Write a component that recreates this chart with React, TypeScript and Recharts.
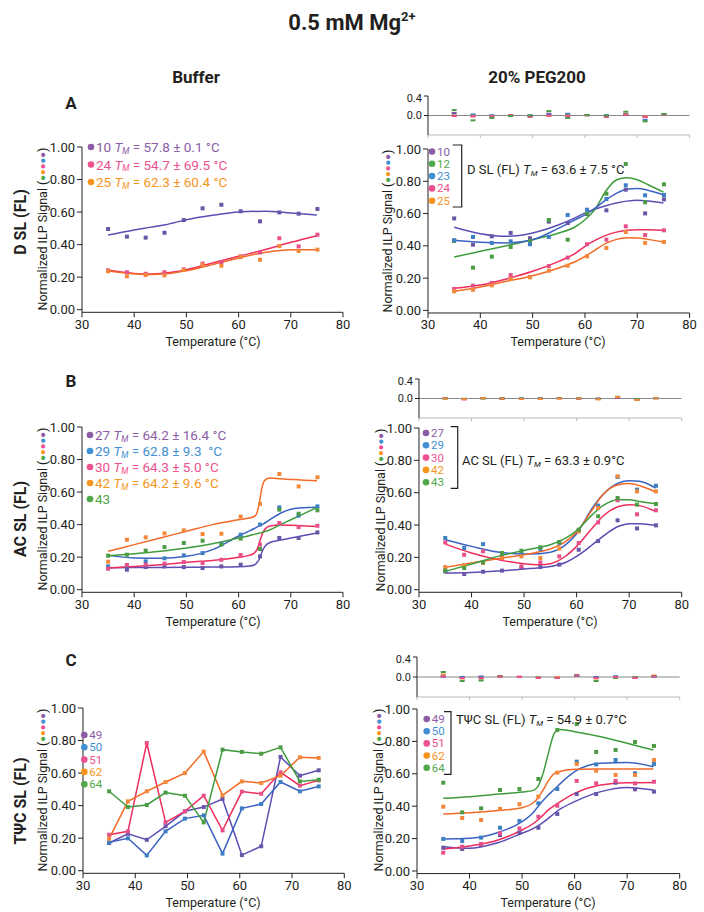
import React from 'react'
import { ComposedChart, Line, XAxis, YAxis, ReferenceLine } from 'recharts'

const FONT = 'Roboto, "Noto Sans", sans-serif'
const INK = '#231f20'

const COL: Record<string, { mark: string; text: string; line: string }> = {
  purple: { mark: '#6b55a8', text: '#8c5ca6', line: '#5a4eb4' },
  blue: { mark: '#3d7fc4', text: '#3f8fd2', line: '#3b62c2' },
  pink: { mark: '#e8508b', text: '#ee5190', line: '#ef2d5d' },
  orange: { mark: '#f4883a', text: '#f7941d', line: '#f26a26' },
  green: { mark: '#4c9c45', text: '#4fa84a', line: '#3f9c3c' },
}

// measured temperatures (°C)
const TEMPS = [35, 38.6, 42.2, 45.8, 49.5, 53.1, 56.7, 60.4, 64.1, 67.8, 71.5, 75.1]
const X_TICKS = [30, 40, 50, 60, 70, 80]
const Y_TICKS = [0, 0.2, 0.4, 0.6, 0.8, 1.0]
const R_TICKS = [-0.4, -0.2, 0, 0.2, 0.4]

// ---- A, buffer
const A_BUF_10 = [0.496, 0.449, 0.443, 0.473, 0.551, 0.623, 0.645, 0.605, 0.543, 0.598, 0.59, 0.619]
const A_BUF_24 = [0.242, 0.23, 0.221, 0.23, 0.248, 0.283, 0.291, 0.328, 0.352, 0.439, 0.389, 0.461]
const A_BUF_25 = [0.236, 0.205, 0.213, 0.211, 0.244, 0.275, 0.27, 0.324, 0.307, 0.391, 0.361, 0.369]
const A_BUF_FIT_T = [35, 40, 43, 46, 50, 55, 60, 65, 70, 75]
const A_BUF_10_FIT = [0.459, 0.49, 0.506, 0.522, 0.553, 0.58, 0.6, 0.605, 0.594, 0.582]
const A_BUF_24_FIT = [0.242, 0.223, 0.219, 0.225, 0.246, 0.287, 0.328, 0.369, 0.414, 0.455]
const A_BUF_25_FIT = [0.238, 0.221, 0.217, 0.221, 0.24, 0.277, 0.318, 0.352, 0.369, 0.369]

// ---- A, PEG200
const A_PEG_10 = [0.57, 0.407, 0.459, 0.48, 0.447, 0.55, 0.541, 0.597, 0.62, 0.748, 0.601, 0.688]
const A_PEG_12 = [0.43, 0.265, 0.333, 0.393, 0.43, 0.56, 0.438, 0.6, 0.723, 0.907, 0.67, 0.781]
const A_PEG_23 = [0.435, 0.455, 0.418, 0.428, 0.41, 0.455, 0.591, 0.624, 0.69, 0.775, 0.713, 0.715]
const A_PEG_24 = [0.133, 0.153, 0.17, 0.219, 0.207, 0.275, 0.327, 0.41, 0.438, 0.521, 0.467, 0.496]
const A_PEG_25 = [0.118, 0.128, 0.155, 0.195, 0.205, 0.246, 0.277, 0.335, 0.387, 0.486, 0.418, 0.424]
const A_PEG_FIT_T = [35, 40, 45, 50, 55, 58, 60, 62, 64, 66, 68, 70, 72, 75]
const A_PEG_10_FIT = [0.515, 0.475, 0.459, 0.48, 0.531, 0.572, 0.603, 0.628, 0.648, 0.665, 0.677, 0.682, 0.678, 0.665]
const A_PEG_12_FIT = [0.331, 0.366, 0.401, 0.438, 0.48, 0.515, 0.562, 0.63, 0.74, 0.808, 0.822, 0.81, 0.78, 0.733]
const A_PEG_23_FIT = [0.434, 0.422, 0.418, 0.438, 0.51, 0.56, 0.592, 0.635, 0.685, 0.725, 0.75, 0.755, 0.745, 0.717]
const A_PEG_24_FIT = [0.137, 0.157, 0.195, 0.242, 0.304, 0.35, 0.397, 0.435, 0.465, 0.485, 0.497, 0.5, 0.499, 0.496]
const A_PEG_25_FIT = [0.118, 0.145, 0.18, 0.215, 0.263, 0.3, 0.335, 0.375, 0.415, 0.44, 0.45, 0.449, 0.44, 0.424]
const A_RES_10 = [0.05, 0.01, 0, 0.01, 0, 0.035, 0.02, 0.01, 0, 0.01, -0.02, 0.02]
const A_RES_12 = [0.11, -0.1, -0.05, -0.01, 0, 0.09, -0.05, 0.01, 0, 0.077, -0.12, 0.03]
const A_RES_23 = [0, 0.02, 0, 0, 0, 0.01, 0.035, 0.01, 0, 0.03, -0.09, 0.02]
const A_RES_24 = [-0.01, -0.02, -0.02, 0.01, -0.03, 0, -0.01, 0, -0.03, 0.02, -0.035, 0.01]
const A_RES_25 = [0, -0.01, -0.02, 0, -0.02, -0.01, 0, 0.01, -0.03, 0.02, -0.02, 0.01]

// ---- B, buffer
const B_BUF_27 = [0.139, 0.123, 0.139, 0.143, 0.139, 0.133, 0.143, 0.154, 0.205, 0.318, 0.318, 0.352]
const B_BUF_29 = [0.143, 0.148, 0.174, 0.193, 0.211, 0.225, 0.281, 0.338, 0.4, 0.506, 0.455, 0.512]
const B_BUF_30 = [0.129, 0.152, 0.154, 0.16, 0.17, 0.164, 0.184, 0.213, 0.277, 0.41, 0.385, 0.393]
const B_BUF_42 = [0.172, 0.307, 0.322, 0.346, 0.365, 0.342, 0.344, 0.449, 0.527, 0.711, 0.635, 0.691]
const B_BUF_43 = [0.209, 0.215, 0.24, 0.262, 0.287, 0.301, 0.277, 0.314, 0.25, 0.492, 0.467, 0.488]
const B_BUF_FIT_T = [35, 40, 45, 50, 55, 60, 62, 63, 63.5, 64, 64.5, 65, 66, 68, 70, 72, 75]
const B_BUF_27_FIT = [0.135, 0.136, 0.137, 0.138, 0.139, 0.141, 0.145, 0.152, 0.165, 0.19, 0.235, 0.265, 0.29, 0.305, 0.318, 0.33, 0.348]
const B_BUF_29_FIT = [0.211, 0.195, 0.193, 0.205, 0.246, 0.33, 0.36, 0.376, 0.385, 0.393, 0.4, 0.41, 0.43, 0.47, 0.495, 0.503, 0.507]
const B_BUF_30_FIT = [0.133, 0.143, 0.154, 0.168, 0.18, 0.199, 0.211, 0.225, 0.245, 0.29, 0.34, 0.37, 0.392, 0.398, 0.396, 0.393, 0.389]
const B_BUF_42_FIT = [0.236, 0.277, 0.318, 0.359, 0.4, 0.43, 0.441, 0.45, 0.47, 0.54, 0.63, 0.672, 0.686, 0.682, 0.678, 0.674, 0.67]
const B_BUF_43_FIT = [0.209, 0.221, 0.236, 0.256, 0.283, 0.318, 0.332, 0.34, 0.344, 0.348, 0.352, 0.357, 0.368, 0.4, 0.43, 0.46, 0.505]

// ---- B, PEG200
const B_PEG_27 = [0.113, 0.097, 0.111, 0.118, 0.134, 0.14, 0.155, 0.247, 0.301, 0.429, 0.379, 0.398]
const B_PEG_29 = [0.32, 0.258, 0.282, 0.225, 0.22, 0.252, 0.29, 0.365, 0.52, 0.697, 0.619, 0.643]
const B_PEG_30 = [0.293, 0.216, 0.237, 0.196, 0.144, 0.169, 0.206, 0.289, 0.416, 0.553, 0.466, 0.491]
const B_PEG_42 = [0.14, 0.15, 0.165, 0.196, 0.206, 0.196, 0.255, 0.36, 0.505, 0.701, 0.608, 0.608]
const B_PEG_43 = [0.118, 0.134, 0.169, 0.227, 0.241, 0.262, 0.295, 0.371, 0.454, 0.567, 0.526, 0.53]
const B_PEG_FIT_T = [35, 40, 45, 50, 53, 55, 58, 60, 63, 65, 68, 70, 72, 75]
const B_PEG_27_FIT = [0.103, 0.107, 0.115, 0.128, 0.136, 0.144, 0.17, 0.206, 0.278, 0.33, 0.392, 0.408, 0.408, 0.398]
const B_PEG_29_FIT = [0.309, 0.268, 0.233, 0.221, 0.223, 0.231, 0.28, 0.346, 0.505, 0.588, 0.66, 0.674, 0.67, 0.629]
const B_PEG_30_FIT = [0.282, 0.227, 0.186, 0.161, 0.155, 0.161, 0.21, 0.268, 0.381, 0.454, 0.515, 0.526, 0.52, 0.485]
const B_PEG_42_FIT = [0.138, 0.165, 0.192, 0.216, 0.235, 0.252, 0.3, 0.355, 0.495, 0.588, 0.649, 0.656, 0.643, 0.604]
const B_PEG_43_FIT = [0.113, 0.159, 0.206, 0.243, 0.262, 0.278, 0.32, 0.365, 0.464, 0.52, 0.557, 0.557, 0.546, 0.532]
const B_RES_27 = [0.005, -0.01, 0.005, 0, -0.005, 0, 0.01, 0, 0, 0.01, -0.01, 0.005]
const B_RES_29 = [0.01, -0.01, 0.01, 0, 0, 0, 0.01, 0, -0.01, 0.02, -0.02, 0.01]
const B_RES_30 = [0.01, -0.02, 0.01, 0, -0.01, 0, 0, 0, -0.01, 0.02, -0.03, 0.01]
const B_RES_42 = [0, -0.01, 0.005, 0, -0.01, -0.01, 0, 0, -0.02, 0.03, -0.03, 0.005]
const B_RES_43 = [0, -0.005, 0, 0.005, 0, 0, 0.01, 0.005, -0.01, 0.035, -0.01, 0.005]

// ---- C, buffer (raw points joined)
const C_BUF_49 = [0.17, 0.227, 0.19, 0.273, 0.365, 0.391, 0.441, 0.096, 0.15, 0.699, 0.584, 0.617]
const C_BUF_50 = [0.174, 0.199, 0.094, 0.242, 0.32, 0.34, 0.105, 0.383, 0.41, 0.545, 0.488, 0.518]
const C_BUF_51 = [0.221, 0.242, 0.785, 0.297, 0.365, 0.461, 0.248, 0.486, 0.473, 0.605, 0.523, 0.555]
const C_BUF_62 = [0.197, 0.426, 0.488, 0.545, 0.6, 0.732, 0.463, 0.549, 0.539, 0.584, 0.697, 0.693]
const C_BUF_64 = [0.488, 0.391, 0.404, 0.48, 0.461, 0.297, 0.744, 0.73, 0.719, 0.758, 0.549, 0.559]

// ---- C, PEG200
const C_PEG_49 = [0.144, 0.136, 0.16, 0.222, 0.237, 0.267, 0.352, 0.475, 0.475, 0.545, 0.504, 0.49]
const C_PEG_50 = [0.198, 0.185, 0.206, 0.267, 0.309, 0.418, 0.506, 0.675, 0.658, 0.685, 0.603, 0.66]
const C_PEG_51 = [0.113, 0.15, 0.167, 0.233, 0.263, 0.335, 0.403, 0.556, 0.541, 0.556, 0.541, 0.551]
const C_PEG_62 = [0.397, 0.327, 0.315, 0.383, 0.412, 0.459, 0.607, 0.661, 0.619, 0.593, 0.593, 0.685]
const C_PEG_64 = [0.545, 0.362, 0.387, 0.5, 0.506, 0.568, 0.87, 0.907, 0.735, 0.747, 0.796, 0.772]
const C_PEG_FIT_T = [35, 40, 45, 50, 52, 53, 54, 55, 56, 57, 60, 65, 70, 75]
const C_PEG_49_FIT = [0.15, 0.14, 0.171, 0.233, 0.26, 0.278, 0.3, 0.325, 0.352, 0.377, 0.428, 0.49, 0.516, 0.5]
const C_PEG_50_FIT = [0.198, 0.202, 0.233, 0.305, 0.356, 0.397, 0.435, 0.469, 0.5, 0.531, 0.613, 0.665, 0.669, 0.644]
const C_PEG_51_FIT = [0.136, 0.154, 0.187, 0.253, 0.29, 0.315, 0.345, 0.377, 0.4, 0.422, 0.479, 0.531, 0.545, 0.547]
const C_PEG_62_FIT = [0.352, 0.36, 0.372, 0.391, 0.418, 0.449, 0.5, 0.556, 0.599, 0.613, 0.628, 0.63, 0.63, 0.63]
const C_PEG_64_FIT = [0.449, 0.459, 0.473, 0.488, 0.496, 0.521, 0.603, 0.726, 0.84, 0.874, 0.86, 0.829, 0.788, 0.747]
const C_RES_49 = [0.01, 0, 0.01, 0.01, 0, -0.01, -0.01, 0.02, 0, 0.01, 0, 0.01]
const C_RES_50 = [0.01, 0, 0, 0.01, 0, 0, -0.01, 0.02, -0.01, 0.01, -0.01, 0.01]
const C_RES_51 = [0.01, -0.02, -0.02, 0.01, 0, -0.02, -0.02, 0.03, -0.02, 0, -0.02, 0.01]
const C_RES_62 = [0.05, -0.03, -0.03, 0.01, 0.01, 0, 0, 0.04, -0.03, 0, -0.01, 0.03]
const C_RES_64 = [0.1, -0.08, -0.07, 0.02, 0, -0.01, -0.02, 0.04, -0.08, -0.02, -0.01, 0.02]

type Series = { id: string; c: string; pts: number[]; fit?: number[]; tm?: string }

const squareDot = (color: string, w: number, h: number) => (p: any) => (
  <rect key={p.index} x={p.cx - w / 2} y={p.cy - h / 2} width={w} height={h} fill={color} />
)

function MainPanel({ px, pw, y1, y0, series, fitT, connect }: {
  px: number; pw: number; y1: number; y0: number; series: Series[]; fitT?: number[]; connect?: boolean
}) {
  const unit = y0 - y1
  const lo = -0.016
  const plotH = unit * (1 - lo)
  const W = 50 + pw + 14
  const H = 10 + plotH + 24
  return (
    <div style={{ position: 'absolute', left: px - 50, top: y1 - 10 }}>
      <ComposedChart width={W} height={H} margin={{ top: 10, right: 14, left: 0, bottom: 0 }}>
        <XAxis type="number" dataKey="t" domain={[30, 80]} ticks={X_TICKS} height={24}
          stroke={INK} tickSize={5} tick={{ fill: INK, fontSize: 13, fontFamily: FONT }} allowDataOverflow />
        <YAxis type="number" dataKey="v" domain={[lo, 1]} ticks={Y_TICKS} width={50}
          stroke={INK} tickSize={5} tickFormatter={(v: number) => v.toFixed(2)}
          tick={{ fill: INK, fontSize: 13, fontFamily: FONT }} allowDataOverflow />
        {series.map((s) => (
          connect ? (
            <Line key={s.id} data={s.pts.map((v, i) => ({ t: TEMPS[i], v }))} dataKey="v"
              type="linear" stroke={COL[s.c].line} strokeWidth={1.5}
              dot={squareDot(COL[s.c].mark, 4, 4)} activeDot={false} isAnimationActive={false} />
          ) : (
            <Line key={s.id + 'f'} data={fitT!.map((t, i) => ({ t, v: s.fit![i] }))} dataKey="v"
              type="monotone" stroke={COL[s.c].line} strokeWidth={1.5} dot={false}
              activeDot={false} isAnimationActive={false} />
          )
        ))}
        {!connect && series.map((s) => (
          <Line key={s.id + 'p'} data={s.pts.map((v, i) => ({ t: TEMPS[i], v }))} dataKey="v"
            stroke="none" dot={squareDot(COL[s.c].mark, 4, 4)} activeDot={false}
            isAnimationActive={false} />
        ))}
      </ComposedChart>
    </div>
  )
}

function ResidPanel({ px, pw, yTop, yBot, series }: {
  px: number; pw: number; yTop: number; yBot: number; series: { c: string; r: number[] }[]
}) {
  const W = 50 + pw + 8
  const H = 4 + (yBot - yTop) + 4
  const fmt = (v: number) => (v === 0.4 ? '0.4' : v === 0 ? '0.0' : v === -0.4 ? '-0.4' : '')
  return (
    <div style={{ position: 'absolute', left: px - 50, top: yTop - 4 }}>
      <ComposedChart width={W} height={H} margin={{ top: 4, right: 8, left: 0, bottom: 0 }}>
        <XAxis type="number" dataKey="t" domain={[30, 80]} ticks={X_TICKS} height={4}
          stroke="#bbb" tickSize={3} tickFormatter={() => ''} />
        <YAxis type="number" dataKey="v" domain={[-0.4, 0.4]} ticks={R_TICKS} width={50}
          stroke={INK} tickSize={4} tickFormatter={fmt}
          tick={{ fill: INK, fontSize: 11, fontFamily: FONT }} />
        <ReferenceLine y={0} stroke="#8a8a8a" strokeWidth={1} />
        {series.map((s, k) => (
          <Line key={k} data={s.r.map((v, i) => ({ t: TEMPS[i], v }))} dataKey="v"
            stroke="none" dot={squareDot(COL[s.c].mark, 5, 2)} activeDot={false}
            isAnimationActive={false} />
        ))}
      </ComposedChart>
    </div>
  )
}

function TmText({ x, y, fs, fill, pre, tm }: {
  x: number; y: number; fs: number; fill: string; pre: string; tm?: string
}) {
  return (
    <text x={x} y={y} fontSize={fs} fill={fill} fontFamily={FONT} dominantBaseline="central"
      style={{ whiteSpace: 'pre' }}>
      {pre}
      {tm && <tspan fontStyle="italic">T</tspan>}
      {tm && <tspan fontStyle="italic" fontSize={fs * 0.62} dy={fs * 0.28}>M</tspan>}
      {tm && <tspan dy={-fs * 0.28}>{tm}</tspan>}
    </text>
  )
}

function Legend({ x, y0, dy, fs, series }: { x: number; y0: number; dy: number; fs: number; series: Series[] }) {
  return (
    <g>
      {series.map((s, i) => (
        <g key={s.id}>
          <circle cx={x} cy={y0 + i * dy} r={3.3} fill={COL[s.c].text} />
          <TmText x={x + 5} y={y0 + i * dy} fs={fs} fill={COL[s.c].text}
            pre={s.tm ? `${s.id} ` : s.id} tm={s.tm} />
        </g>
      ))}
    </g>
  )
}

function YLabel({ x, y }: { x: number; y: number }) {
  const dots = ['green', 'orange', 'pink', 'blue', 'purple']
  return (
    <text x={x} y={y} transform={`rotate(-90 ${x} ${y})`} textAnchor="middle" dominantBaseline="central"
      fontSize={12.5} fill={INK} fontFamily={FONT}>
      Normalized ILP Signal (
      {dots.map((c) => (
        <tspan key={c} fill={COL[c].text} fontSize={9.5}>●</tspan>
      ))}
      <tspan>)</tspan>
    </text>
  )
}

function Bracket({ x, y1, y2, w }: { x: number; y1: number; y2: number; w: number }) {
  return (
    <path d={`M${x - w},${y1} H${x} V${y2} H${x - w}`} fill="none" stroke={INK} strokeWidth={1.2} />
  )
}

const A_BUF: Series[] = [
  { id: '10', c: 'purple', pts: A_BUF_10, fit: A_BUF_10_FIT, tm: ' = 57.8 ± 0.1 °C' },
  { id: '24', c: 'pink', pts: A_BUF_24, fit: A_BUF_24_FIT, tm: ' = 54.7 ± 69.5 °C' },
  { id: '25', c: 'orange', pts: A_BUF_25, fit: A_BUF_25_FIT, tm: ' = 62.3 ± 60.4 °C' },
]
const A_PEG: Series[] = [
  { id: '10', c: 'purple', pts: A_PEG_10, fit: A_PEG_10_FIT },
  { id: '12', c: 'green', pts: A_PEG_12, fit: A_PEG_12_FIT },
  { id: '23', c: 'blue', pts: A_PEG_23, fit: A_PEG_23_FIT },
  { id: '24', c: 'pink', pts: A_PEG_24, fit: A_PEG_24_FIT },
  { id: '25', c: 'orange', pts: A_PEG_25, fit: A_PEG_25_FIT },
]
const B_BUF: Series[] = [
  { id: '27', c: 'purple', pts: B_BUF_27, fit: B_BUF_27_FIT, tm: ' = 64.2 ± 16.4 °C' },
  { id: '29', c: 'blue', pts: B_BUF_29, fit: B_BUF_29_FIT, tm: ' = 62.8 ± 9.3  °C' },
  { id: '30', c: 'pink', pts: B_BUF_30, fit: B_BUF_30_FIT, tm: ' = 64.3 ± 5.0 °C' },
  { id: '42', c: 'orange', pts: B_BUF_42, fit: B_BUF_42_FIT, tm: ' = 64.2 ± 9.6 °C' },
  { id: '43', c: 'green', pts: B_BUF_43, fit: B_BUF_43_FIT },
]
const B_PEG: Series[] = [
  { id: '27', c: 'purple', pts: B_PEG_27, fit: B_PEG_27_FIT },
  { id: '29', c: 'blue', pts: B_PEG_29, fit: B_PEG_29_FIT },
  { id: '30', c: 'pink', pts: B_PEG_30, fit: B_PEG_30_FIT },
  { id: '42', c: 'orange', pts: B_PEG_42, fit: B_PEG_42_FIT },
  { id: '43', c: 'green', pts: B_PEG_43, fit: B_PEG_43_FIT },
]
const C_BUF: Series[] = [
  { id: '49', c: 'purple', pts: C_BUF_49 },
  { id: '50', c: 'blue', pts: C_BUF_50 },
  { id: '51', c: 'pink', pts: C_BUF_51 },
  { id: '62', c: 'orange', pts: C_BUF_62 },
  { id: '64', c: 'green', pts: C_BUF_64 },
]
const C_PEG: Series[] = [
  { id: '49', c: 'purple', pts: C_PEG_49, fit: C_PEG_49_FIT },
  { id: '50', c: 'blue', pts: C_PEG_50, fit: C_PEG_50_FIT },
  { id: '51', c: 'pink', pts: C_PEG_51, fit: C_PEG_51_FIT },
  { id: '62', c: 'orange', pts: C_PEG_62, fit: C_PEG_62_FIT },
  { id: '64', c: 'green', pts: C_PEG_64, fit: C_PEG_64_FIT },
]

export default function App() {
  const bold = { fontFamily: FONT, fontWeight: 700, fill: INK }
  return (
    <div style={{ position: 'absolute', left: 0, top: 0, width: 704, height: 912, background: '#fff' }}>
      <MainPanel px={82} pw={261} y1={147.3} y0={310} series={A_BUF} fitT={A_BUF_FIT_T} />
      <ResidPanel px={427.7} pw={261.6} yTop={96} yBot={135}
        series={[{ c: 'purple', r: A_RES_10 }, { c: 'blue', r: A_RES_23 }, { c: 'orange', r: A_RES_25 }, { c: 'pink', r: A_RES_24 }, { c: 'green', r: A_RES_12 }]} />
      <MainPanel px={427.7} pw={261.6} y1={149.3} y0={310.7} series={A_PEG} fitT={A_PEG_FIT_T} />

      <MainPanel px={82} pw={261} y1={427.3} y0={590} series={B_BUF} fitT={B_BUF_FIT_T} />
      <ResidPanel px={419} pw={262.7} yTop={379} yBot={418}
        series={[{ c: 'purple', r: B_RES_27 }, { c: 'blue', r: B_RES_29 }, { c: 'pink', r: B_RES_30 }, { c: 'green', r: B_RES_43 }, { c: 'orange', r: B_RES_42 }]} />
      <MainPanel px={419} pw={262.7} y1={428.3} y0={590} series={B_PEG} fitT={B_PEG_FIT_T} />

      <MainPanel px={82.7} pw={261.3} y1={708.3} y0={871} series={C_BUF} connect />
      <ResidPanel px={417.3} pw={262.7} yTop={657} yBot={697}
        series={[{ c: 'purple', r: C_RES_49 }, { c: 'blue', r: C_RES_50 }, { c: 'orange', r: C_RES_62 }, { c: 'green', r: C_RES_64 }, { c: 'pink', r: C_RES_51 }]} />
      <MainPanel px={417.3} pw={262.7} y1={709} y0={871} series={C_PEG} fitT={C_PEG_FIT_T} />

      <svg width={704} height={912} style={{ position: 'absolute', left: 0, top: 0, pointerEvents: 'none' }}>
        <text x={352} y={30} textAnchor="middle" fontSize={22} {...bold}>
          0.5 mM Mg<tspan fontSize={13} dy={-9}>2+</tspan>
        </text>
        <text x={196} y={83} textAnchor="middle" fontSize={17} {...bold}>Buffer</text>
        <text x={537} y={83} textAnchor="middle" fontSize={17} {...bold}>20% PEG200</text>
        <text x={71} y={109} textAnchor="middle" fontSize={17} {...bold}>A</text>
        <text x={71} y={387} textAnchor="middle" fontSize={17} {...bold}>B</text>
        <text x={71} y={666} textAnchor="middle" fontSize={17} {...bold}>C</text>

        <text x={20} y={222} transform="rotate(-90 20 222)" textAnchor="middle" dominantBaseline="central" fontSize={16} {...bold}>D SL (FL)</text>
        <text x={20} y={519} transform="rotate(-90 20 519)" textAnchor="middle" dominantBaseline="central" fontSize={16} {...bold}>AC SL (FL)</text>
        <text x={20} y={801} transform="rotate(-90 20 801)" textAnchor="middle" dominantBaseline="central" fontSize={16} {...bold}>TΨC SL (FL)</text>

        <YLabel x={42} y={229} />
        <YLabel x={387} y={231} />
        <YLabel x={42} y={509} />
        <YLabel x={380} y={510} />
        <YLabel x={42} y={790} />
        <YLabel x={378} y={790} />

        {[[213, 341], [558, 341], [213, 621], [550, 621], [213, 902], [548, 902]].map(([x, y], i) => (
          <text key={i} x={x} y={y} textAnchor="middle" dominantBaseline="central" fontSize={12.5} fill={INK} fontFamily={FONT}>
            Temperature (°C)
          </text>
        ))}

        <Legend x={91} y0={147} dy={17.5} fs={13.5} series={A_BUF} />
        <Legend x={432} y0={151.5} dy={12.3} fs={11.5} series={A_PEG} />
        <Bracket x={461.7} y1={145} y2={207} w={9} />
        <TmText x={467} y={169} fs={13} fill={INK} pre="D SL (FL) " tm=" = 63.6 ± 7.5 °C" />

        <Legend x={90} y0={435} dy={16} fs={13.5} series={B_BUF} />
        <Legend x={426} y0={433} dy={12.3} fs={11.5} series={B_PEG} />
        <Bracket x={457.7} y1={426.7} y2={488.3} w={7} />
        <TmText x={462} y={460} fs={13} fill={INK} pre="AC SL (FL) " tm=" = 63.3 ± 0.9°C" />

        <Legend x={84.3} y0={735} dy={12.3} fs={11.5} series={C_BUF} />
        <Legend x={426.7} y0={719} dy={12.2} fs={11.5} series={C_PEG} />
        <Bracket x={451} y1={711.7} y2={774.3} w={7} />
        <TmText x={456} y={719.3} fs={13} fill={INK} pre="TΨC SL (FL) " tm=" = 54.9 ± 0.7°C" />
      </svg>
    </div>
  )
}
